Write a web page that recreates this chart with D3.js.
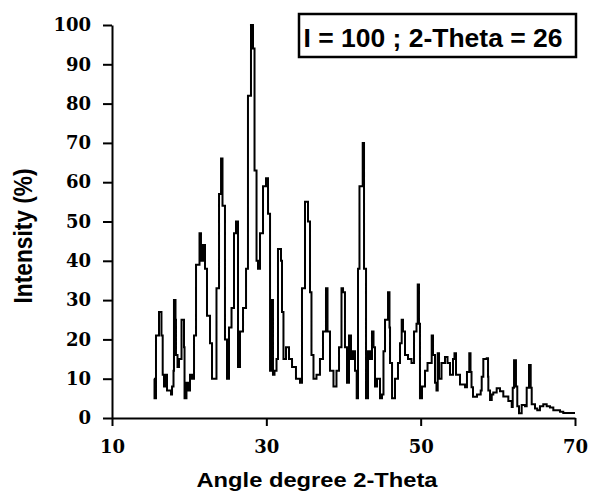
<!DOCTYPE html>
<html>
<head>
<meta charset="utf-8">
<script src="https://cdn.jsdelivr.net/npm/d3@7"></script>
<style>
    body { margin: 0; background: #fff; }
    .axis path, .axis line { stroke: #000; stroke-width: 2px; }
    .axis text { font-family: 'DejaVu Serif', serif; font-weight: bold; font-size: 18px; fill: #000; }
    .title { font-family: 'Liberation Sans', Arial, sans-serif; font-weight: bold; fill: #000; }
</style>
</head>
<body>
<div id="chart"></div>
<script>
// diffraction pattern: 2-theta (deg) and relative intensity (%)
const angles = [
    15.44, 15.51, 15.70, 16.09, 16.41, 16.57, 16.74, 17.00, 17.13, 17.65,
    17.78, 17.97, 18.03, 18.23, 18.29, 18.49, 18.68, 19.01, 19.33, 19.40,
    19.65, 19.85, 20.11, 20.37, 20.63, 20.89, 21.34, 21.53, 21.79, 22.05,
    22.31, 22.70, 22.96, 23.54, 23.87, 24.13, 24.32, 24.64, 24.90, 25.16,
    25.49, 25.81, 26.07, 26.33, 26.59, 26.98, 27.37, 27.62, 28.01, 28.27,
    28.47, 28.73, 28.92, 29.18, 29.57, 29.96, 30.22, 30.48, 30.67, 30.86,
    31.06, 31.32, 31.51, 31.90, 32.03, 32.22, 32.55, 32.94, 33.33, 33.84,
    34.36, 34.62, 35.01, 35.40, 35.66, 35.85, 36.11, 36.50, 36.95, 37.34,
    37.73, 37.93, 38.25, 38.70, 39.09, 39.42, 39.74, 39.94, 40.19, 40.45,
    40.71, 40.97, 41.23, 41.49, 41.71, 41.88, 42.07, 42.49, 42.66, 42.92,
    43.18, 43.43, 43.69, 43.89, 44.08, 44.34, 44.73, 44.99, 45.18, 45.38,
    45.77, 45.96, 46.03, 46.29, 46.67, 47.06, 47.32, 47.54, 47.71, 47.97,
    48.36, 48.81, 49.14, 49.46, 49.62, 49.78, 49.91, 50.17, 50.56, 50.89,
    51.43, 51.60, 51.86, 52.05, 52.21, 52.38, 52.70, 53.15, 53.48, 53.80,
    54.19, 54.38, 54.58, 55.10, 55.75, 56.00, 56.30, 56.46, 56.59, 56.78,
    57.30, 57.78, 57.91, 58.12, 58.56, 58.73, 58.77, 58.99, 59.21, 59.41,
    59.85, 60.28, 60.71, 61.36, 61.80, 61.93, 62.10, 62.35, 62.52, 62.74,
    63.09, 63.52, 63.74, 64.04, 64.26, 64.39, 64.82, 65.11, 65.46, 65.89,
    66.33, 66.76, 67.19, 67.63, 68.06, 68.48, 70.00
];
const intensity = [
    10, 5, 21, 27, 21, 11, 8, 11, 7, 6,
    8, 12, 30, 25, 16, 13, 15, 25, 18, 5,
    9, 7, 11, 10, 21, 39, 47, 40, 44, 38,
    26, 19, 10, 33, 57, 66, 54, 20, 10, 23,
    28, 47, 50, 13, 22, 28, 38, 82, 100, 94,
    63, 40, 38, 47, 59, 61, 52, 12, 30, 11,
    12, 15, 43, 40, 27, 15, 18, 15, 13, 10,
    9, 33, 55, 50, 32, 16, 10, 11, 15, 22,
    33, 22, 12, 8, 12, 18, 33, 32, 18, 9,
    21, 15, 17, 12, 5, 38, 59, 70, 38, 5,
    17, 15, 22, 18, 8, 10, 5, 6, 17, 25,
    32, 23, 14, 5, 10, 14, 19, 25, 22, 16,
    15, 14, 22, 24, 34, 24, 5, 8, 12, 14,
    21, 16, 9, 7, 16.5, 10, 14, 15.5, 14, 11,
    15, 16.5, 11, 8.5, 7.8, 11.7, 16.5, 11.7, 7.8, 5.4,
    6, 7, 10.5, 15, 15.2, 10.5, 7, 4.6, 6, 6.5,
    7.6, 6.8, 5.5, 4.3, 2.8, 7.7, 14.7, 8, 3, 1.2,
    3.3, 3, 7.7, 13.5, 7.7, 3.5, 2.4, 2, 3, 3.5,
    3, 2.7, 2, 2, 1.6, 1.3, 1.3
];
const xTicks = [10, 30, 50, 70];
const yTicks = [0, 10, 20, 30, 40, 50, 60, 70, 80, 90, 100];
const legendText = 'I = 100 ; 2-Theta = 26';

const config = {
    width: 589,
    height: 494,
    margin: {top: 25, right: 14, bottom: 76, left: 112}
};

const innerW = config.width - config.margin.left - config.margin.right;
const innerH = config.height - config.margin.top - config.margin.bottom;

const svg = d3.select('#chart').append('svg')
    .attr('width', config.width)
    .attr('height', config.height);

const chart = svg.append('g')
    .attr('transform', `translate(${config.margin.left}, ${config.margin.top})`);

const xScale = d3.scaleLinear()
    .domain([10, 70])
    .range([0, innerW]);
const yScale = d3.scaleLinear()
    .domain([0, 100])
    .range([innerH, 0]);

const xAxis = d3.axisBottom(xScale)
    .tickValues(xTicks)
    .tickSize(8)
    .tickSizeOuter(0)
    .tickPadding(14)
    .tickFormat(d3.format('d'));
const yAxis = d3.axisLeft(yScale)
    .tickValues(yTicks)
    .tickSize(9)
    .tickSizeOuter(0)
    .tickPadding(12)
    .tickFormat(d3.format('d'));

chart.append('g')
    .attr('class', 'axis x-axis')
    .attr('transform', `translate(0, ${innerH})`)
    .call(xAxis);
chart.append('g')
    .attr('class', 'axis y-axis')
    .call(yAxis);

const points = angles.map((a, i) => ({x: a, y: intensity[i]}));

const line = d3.line()
    .x(d => xScale(d.x))
    .y(d => yScale(d.y))
    .curve(d3.curveStepAfter);

chart.append('path')
    .datum(points)
    .attr('d', line)
    .attr('fill', 'none')
    .attr('stroke', '#000')
    .attr('stroke-width', 2);

// axis titles (the source image is a bit stretched sideways)
svg.append('text')
    .attr('class', 'title')
    .attr('x', 317)
    .attr('y', 487)
    .attr('text-anchor', 'middle')
    .attr('font-size', 20)
    .attr('textLength', 241)
    .attr('lengthAdjust', 'spacingAndGlyphs')
    .text('Angle degree 2-Theta');

svg.append('text')
    .attr('class', 'title')
    .attr('transform', 'translate(32, 236) scale(1.2, 1) rotate(-90)')
    .attr('text-anchor', 'middle')
    .attr('font-size', 22)
    .attr('textLength', 135)
    .attr('lengthAdjust', 'spacingAndGlyphs')
    .text('Intensity (%)');

// legend box
svg.append('rect')
    .attr('x', 299)
    .attr('y', 14)
    .attr('width', 277)
    .attr('height', 43)
    .attr('fill', '#fff')
    .attr('stroke', '#000')
    .attr('stroke-width', 2.5);

svg.append('text')
    .attr('class', 'title')
    .attr('x', 433)
    .attr('y', 47)
    .attr('text-anchor', 'middle')
    .attr('font-size', 26)
    .attr('textLength', 259)
    .attr('lengthAdjust', 'spacingAndGlyphs')
    .text(legendText);
</script>
</body>
</html>
